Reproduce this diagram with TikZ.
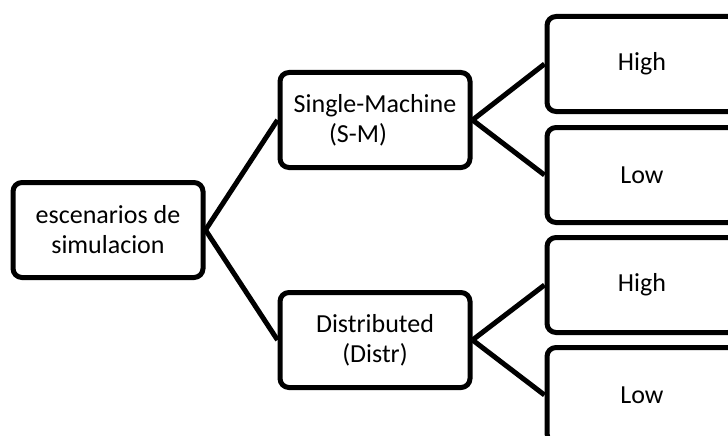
\documentclass[tikz,border=0pt]{standalone}
\usepackage{fontspec}
\setmainfont{Carlito}
\begin{document}
\begin{tikzpicture}[x=1pt,y=-1pt,main/.style={draw,rounded corners=9pt,line width=5pt,minimum width=190pt,minimum height=95pt,inner sep=0pt,align=center,font=\fontsize{26}{30}\selectfont},node distance={267pt}]
                \useasboundingbox (0,0) rectangle (728,436);
                \clip (0,0) rectangle (728,436);
                \node[main](root) at (108,230){escenarios de\\simulacion};
                \node[main](sm)[right of=root,yshift=110pt]{Single-Machine\\(S-M)\hspace*{34pt}};
                \node[main](distr)[right of=root,yshift=-110pt]{Distributed\\(Distr)};
                \node[main](smhigh)[right of=sm,yshift=56pt]{High};
                \node[main](smlow)[right of=sm,yshift=-55pt]{Low};
                \node[main](distrhigh)[right of=distr,yshift=55pt]{High};
                \node[main](distrlow)[right of=distr,yshift=-55pt]{Low};
                \draw[line width=5pt](root.east) -- (sm.west);
                \draw[line width=5pt](root.east) -- (distr.west);
                \draw[line width=5pt](sm.east) -- (smhigh.west);
                \draw[line width=5pt](sm.east) -- (smlow.west);
                \draw[line width=5pt](distr.east) -- (distrhigh.west);
                \draw[line width=5pt](distr.east) -- (distrlow.west);
            \end{tikzpicture}
\end{document}
